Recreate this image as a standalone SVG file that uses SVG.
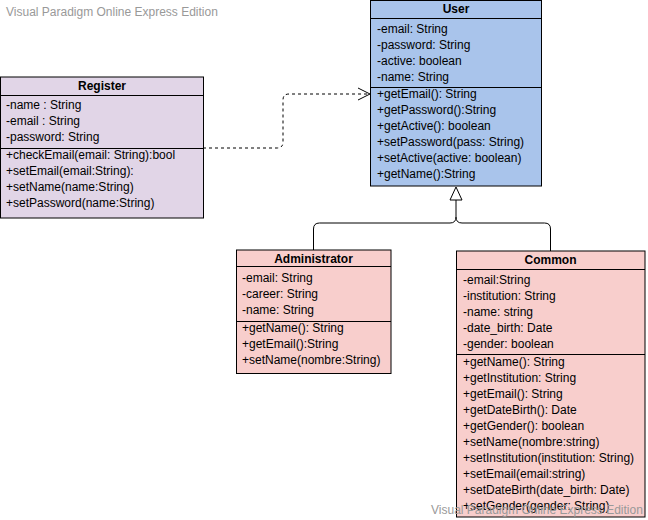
<svg xmlns="http://www.w3.org/2000/svg" width="648" height="520" viewBox="0 0 648 520">
<style>
text{font-family:"Liberation Sans",Arial,Helvetica,sans-serif;font-size:12px;fill:#000}
.t{font-weight:bold;text-anchor:middle}
.box{stroke:#000;stroke-width:1}
.ln{stroke:#000;stroke-width:1;fill:none}
.wm{fill:#999;font-size:12px}
.purple{fill:#e1d5e7}.blue{fill:#a9c4eb}.pink{fill:#f8cecc}
</style>
<rect width="648" height="520" fill="#fff"/>
<text class="wm" x="6" y="16">Visual Paradigm Online Express Edition</text>

<g id="connectors">
<path class="ln" d="M203,148 H277 Q283,148 283,142 V100 Q283,94 289,94 H369" stroke-dasharray="3 3"/>
<polyline class="ln" points="358,88 370,94 358,100"/>
<path class="ln" d="M313.5,250 V229 Q313.5,223 319.5,223 H450 Q456,223 456,217 V200"/>
<path class="ln" d="M550.5,251 V229 Q550.5,223 544.5,223 H462 Q456,223 456,217"/>
<polygon class="ln" fill="#fff" points="456,187 450,200 462,200" style="fill:#fff"/>
</g>

<g id="user">
<rect class="box blue" x="370.5" y="0.5" width="171" height="185.5"/>
<line class="ln" x1="370.5" y1="18.5" x2="541.5" y2="18.5"/>
<line class="ln" x1="370.5" y1="87.5" x2="541.5" y2="87.5"/>
<text class="t" x="456" y="13">User</text>
<text x="377" y="33">-email: String</text>
<text x="377" y="49">-password: String</text>
<text x="377" y="65">-active: boolean</text>
<text x="377" y="81">-name: String</text>
<text x="377" y="98">+getEmail(): String</text>
<text x="377" y="114">+getPassword():String</text>
<text x="377" y="130">+getActive(): boolean</text>
<text x="377" y="146">+setPassword(pass: String)</text>
<text x="377" y="162">+setActive(active: boolean)</text>
<text x="377" y="178">+getName():String</text>
</g>

<g id="register">
<rect class="box purple" x="0.5" y="77" width="203" height="141"/>
<line class="ln" x1="0.5" y1="95.5" x2="203.5" y2="95.5"/>
<line class="ln" x1="0.5" y1="148.5" x2="203.5" y2="148.5"/>
<text class="t" x="102" y="90">Register</text>
<text x="6" y="109">-name : String</text>
<text x="6" y="125">-email : String</text>
<text x="6" y="141">-password: String</text>
<text x="6" y="159">+checkEmail(email: String):bool</text>
<text x="6" y="175">+setEmail(email:String):</text>
<text x="6" y="191">+setName(name:String)</text>
<text x="6" y="207">+setPassword(name:String)</text>
</g>

<g id="administrator">
<rect class="box pink" x="236.5" y="250" width="154.5" height="123.5"/>
<line class="ln" x1="236.5" y1="266.5" x2="391" y2="266.5"/>
<line class="ln" x1="236.5" y1="321.5" x2="391" y2="321.5"/>
<text class="t" x="313.5" y="263">Administrator</text>
<text x="242" y="282">-email: String</text>
<text x="242" y="298">-career: String</text>
<text x="242" y="314">-name: String</text>
<text x="242" y="332">+getName(): String</text>
<text x="242" y="348">+getEmail():String</text>
<text x="242" y="364">+setName(nombre:String)</text>
</g>

<g id="common">
<rect class="box pink" x="456.5" y="251" width="188.5" height="266"/>
<line class="ln" x1="456.5" y1="269.5" x2="645" y2="269.5"/>
<line class="ln" x1="456.5" y1="354.5" x2="645" y2="354.5"/>
<text class="t" x="550.5" y="264">Common</text>
<text x="463" y="284">-email:String</text>
<text x="463" y="300">-institution: String</text>
<text x="463" y="316">-name: string</text>
<text x="463" y="332">-date_birth: Date</text>
<text x="463" y="348">-gender: boolean</text>
<text x="463" y="366">+getName(): String</text>
<text x="463" y="382">+getInstitution: String</text>
<text x="463" y="398">+getEmail(): String</text>
<text x="463" y="414">+getDateBirth(): Date</text>
<text x="463" y="430">+getGender(): boolean</text>
<text x="463" y="446">+setName(nombre:string)</text>
<text x="463" y="462">+setInstitution(institution: String)</text>
<text x="463" y="478">+setEmail(email:string)</text>
<text x="463" y="494">+setDateBirth(date_birth: Date)</text>
<text x="463" y="510">+setGender(gender: String)</text>
</g>

<text class="wm" x="431" y="514">Visual Paradigm Online Express Edition</text>
</svg>
